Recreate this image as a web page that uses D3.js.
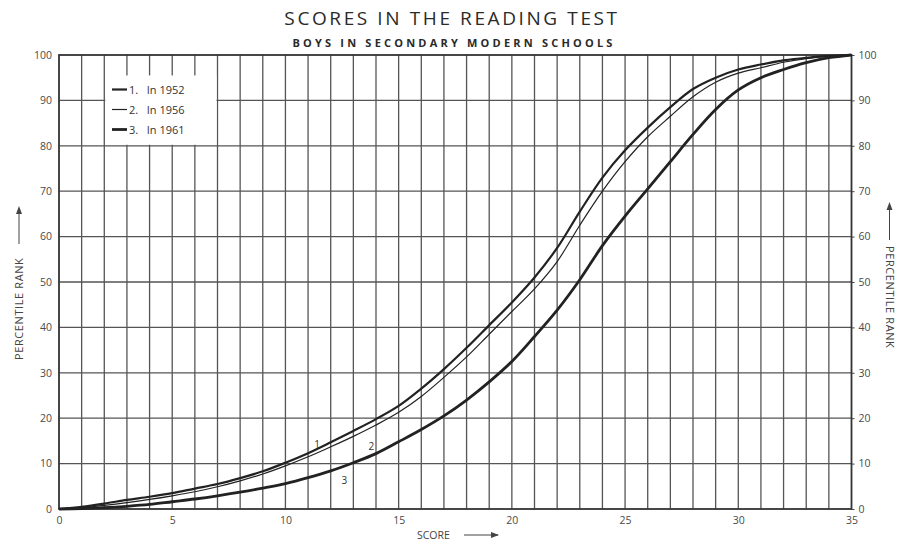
<!DOCTYPE html>
<html>
<head>
<meta charset="utf-8">
<script src="https://cdn.jsdelivr.net/npm/d3@7"></script>
<style>
  html, body { margin: 0; padding: 0; background: #ffffff; }
  svg { display: block; }
  text { font-family: "Open Sans", "DejaVu Sans", sans-serif; fill: #333; }
</style>
</head>
<body>
<svg id="chart" width="911" height="544"></svg>
<script>
const scores = d3.range(0, 36);
const series1952 = [0,0.5,1.2,2.0,2.7,3.5,4.5,5.5,6.8,8.3,10.2,12.3,14.7,17.2,19.8,22.7,26.5,30.8,35.5,40.5,45.5,51,57.5,65.5,73,79,84,88.5,92.5,95,96.8,97.9,98.8,99.4,99.8,100];
const series1956 = [0,0.3,0.8,1.4,2.1,2.9,3.8,4.9,6.2,7.7,9.5,11.5,13.7,16.0,18.5,21.3,24.8,29,33.5,38.5,43.5,48.5,54.5,62.5,70,76.5,82,86.5,90.8,94,96,97.2,98.4,99.2,99.7,100];
const series1961 = [0,0.1,0.3,0.6,1.0,1.6,2.2,2.9,3.7,4.6,5.6,6.9,8.4,10.2,12.2,14.8,17.5,20.5,24,28,32.5,38,43.8,50.5,58,64.5,70.5,76.5,82.5,88,92.3,95,96.8,98.3,99.4,100];
const seriesNames = ["1.   In 1952", "2.   In 1956", "3.   In 1961"];
const seriesLabels = ["1", "2", "3"];
const xTicks = [0, 5, 10, 15, 20, 25, 30, 35];
const yTicks = [0, 10, 20, 30, 40, 50, 60, 70, 80, 90, 100];
const titleText = "SCORES IN THE READING TEST";
const subtitleText = "BOYS IN SECONDARY MODERN SCHOOLS";

const svg = d3.select("#chart");
const margin = {left: 59, right: 60, top: 55, bottom: 35};
const W = 911, H = 544;
const x = d3.scaleLinear().domain([0, 35]).range([margin.left, W - margin.right + 0.5]);
const y = d3.scaleLinear().domain([0, 100]).range([H - margin.bottom, margin.top]);

// title
svg.append("text").attr("x", 452).attr("y", 25).attr("text-anchor", "middle")
  .style("font-size", "19px").style("letter-spacing", "2.6px").style("font-weight", "400").style("fill", "#2a2a2a")
  .text(titleText);
svg.append("text").attr("x", 454).attr("y", 47).attr("text-anchor", "middle")
  .style("font-size", "11px").style("letter-spacing", "3.2px").style("font-weight", "700").style("fill", "#2a2a2a")
  .text(subtitleText);

const g = svg.append("g");
// vertical grid
g.selectAll("line.vg").data(d3.range(1, 35)).join("line")
  .attr("x1", d => x(d)).attr("x2", d => x(d))
  .attr("y1", y(100)).attr("y2", y(0))
  .attr("stroke", "#555").attr("stroke-width", 1.3);
// horizontal grid
g.selectAll("line.hg").data(yTicks.slice(1, -1)).join("line")
  .attr("x1", x(0)).attr("x2", x(35))
  .attr("y1", d => y(d)).attr("y2", d => y(d))
  .attr("stroke", "#555").attr("stroke-width", 1.3);

// legend blank area
g.append("rect").attr("x", x(2) + 1).attr("y", y(95.5))
  .attr("width", x(7) - x(2) - 2).attr("height", y(80) - y(95.5) - 1)
  .attr("fill", "#ffffff");

// frame
g.append("rect").attr("x", x(0)).attr("y", y(100))
  .attr("width", x(35) - x(0)).attr("height", y(0) - y(100))
  .attr("fill", "none").attr("stroke", "#333").attr("stroke-width", 1.8);

// axes labels
const leftAxis = d3.axisLeft(y).tickValues(yTicks).tickSize(0).tickPadding(7);
const rightAxis = d3.axisRight(y).tickValues(yTicks).tickSize(3).tickPadding(4);
const bottomAxis = d3.axisBottom(x).tickValues(xTicks).tickSize(0).tickPadding(8);
function styleAxis(sel) {
  sel.select(".domain").remove();
  sel.selectAll("text").style("font-size", "10.5px").style("fill", "#4a4a4a")
    .style("font-family", "'Open Sans', sans-serif");
  sel.selectAll("line").attr("stroke", "#444");
}
svg.append("g").attr("transform", `translate(${x(0)},0)`).call(leftAxis).call(styleAxis);
svg.append("g").attr("transform", `translate(${x(35)},0)`).call(rightAxis).call(styleAxis);
svg.append("g").attr("transform", `translate(0,${y(0)})`).call(bottomAxis).call(styleAxis);

// axis titles
svg.append("text").attr("x", 417).attr("y", 539).style("font-size", "10.5px").style("fill", "#444").text("SCORE");
svg.append("line").attr("x1", 464).attr("x2", 498).attr("y1", 535).attr("y2", 535).attr("stroke", "#444").attr("stroke-width", 1);
svg.append("path").attr("d", "M499,535 l-8,-3 l0,6 z").attr("fill", "#444");

svg.append("text").attr("transform", "translate(23,360) rotate(-90)")
  .style("font-size", "11px").style("letter-spacing", "0.6px").style("fill", "#444").text("PERCENTILE RANK");
svg.append("line").attr("x1", 19).attr("x2", 19).attr("y1", 244).attr("y2", 210).attr("stroke", "#444");
svg.append("path").attr("d", "M19,206 l-3,8 l6,0 z").attr("fill", "#444");

svg.append("text").attr("transform", "translate(886,246) rotate(90)")
  .style("font-size", "11px").style("letter-spacing", "0.6px").style("fill", "#444").text("PERCENTILE RANK");
svg.append("line").attr("x1", 889.5).attr("x2", 889.5).attr("y1", 240).attr("y2", 206).attr("stroke", "#444");
svg.append("path").attr("d", "M889.5,202 l-3,8 l6,0 z").attr("fill", "#444");

// curves
const allSeries = [series1952, series1956, series1961];
const widths = [2.2, 1.2, 2.8];
const line = d3.line().x((d, i) => x(scores[i])).y(d => y(d)).curve(d3.curveCatmullRom.alpha(0.5));
svg.append("g").selectAll("path").data(allSeries).join("path")
  .attr("d", d => line(d)).attr("fill", "none").attr("stroke", "#222")
  .attr("stroke-width", (d, i) => widths[i]).attr("stroke-linejoin", "round");

// curve labels
const labelPos = [[11.4, 13.5], [13.8, 13.0], [12.6, 5.5]];
svg.append("g").selectAll("text").data(seriesLabels).join("text")
  .attr("x", (d, i) => x(labelPos[i][0])).attr("y", (d, i) => y(labelPos[i][1]))
  .attr("text-anchor", "middle").style("font-size", "10px").style("fill", "#333")
  .text(d => d);

// legend
const leg = svg.append("g");
seriesNames.forEach((name, i) => {
  const yy = 89.5 + i * 20;
  leg.append("line").attr("x1", 112).attr("x2", 127).attr("y1", yy).attr("y2", yy)
    .attr("stroke", "#222").attr("stroke-width", widths[i]);
  leg.append("text").attr("x", 129).attr("y", yy + 4).style("font-size", "11px")
    .style("fill", "#333").style("white-space", "pre").text(name);
});
</script>
</body>
</html>
